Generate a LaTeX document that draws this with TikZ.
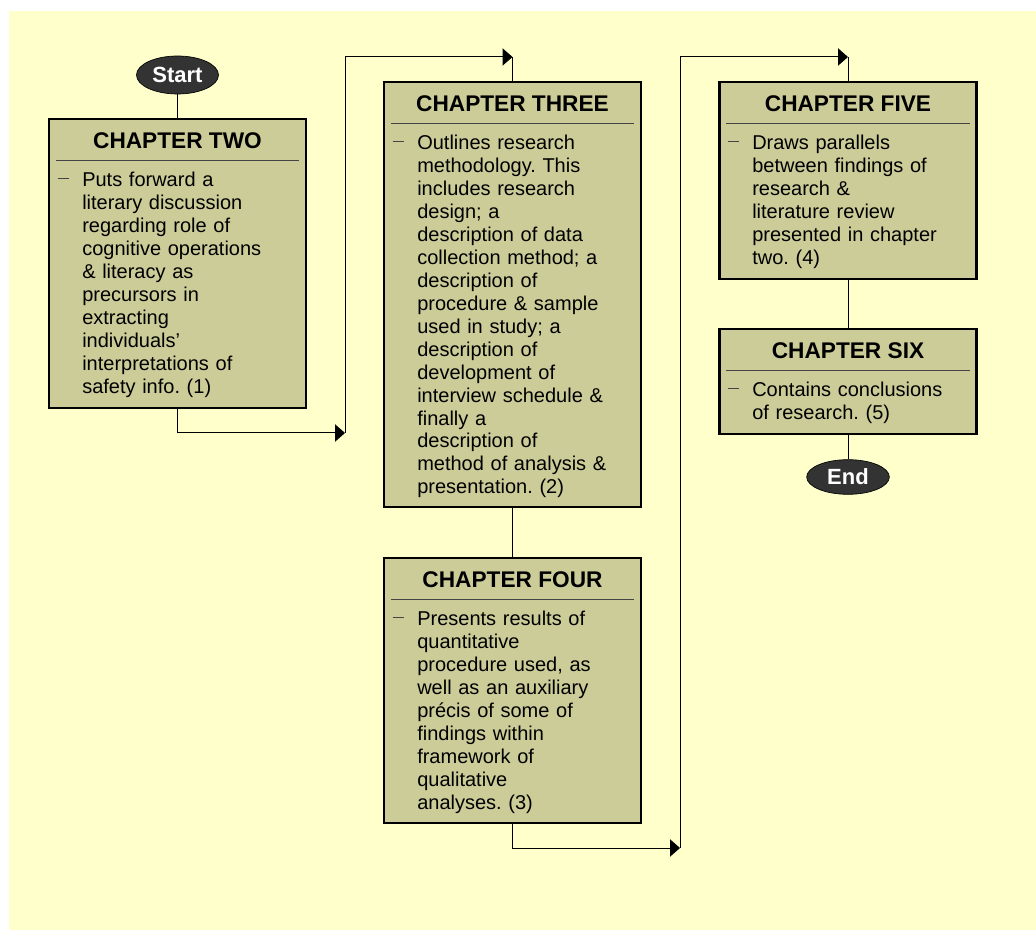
\documentclass[tikz,border=0pt]{standalone}
\usepackage{fontspec}
\setmainfont{Liberation Sans}
\frenchspacing
\usetikzlibrary{shapes.geometric,arrows.meta}
\definecolor{bgyellow}{HTML}{FFFFCC}
\definecolor{boxolive}{HTML}{CCCC99}
\definecolor{termgray}{HTML}{333333}
\definecolor{rulegray}{HTML}{444444}
\tikzset{
  chapbox/.style={draw=black, line width=2pt, fill=boxolive, minimum width=192.75pt, inner sep=0pt},
  chaptitle/.style={inner sep=0pt, font=\fontsize{17}{20}\selectfont\bfseries},
  chaptext/.style={anchor=north west, inner sep=0pt, text width=175pt, align=left, font=\fontsize{15}{17.2}\selectfont},
  chaprule/.style={draw=rulegray, line width=0.9pt},
  chapdash/.style={draw=rulegray, line width=0.9pt},
  terminal/.style={ellipse, draw=black, line width=0.5pt, fill=termgray, text=white, inner sep=0pt, font=\fontsize{16.5}{18}\selectfont\bfseries},
  flow/.style={line width=0.75pt},
  flowarrow/.style={-{Triangle[length=7.5pt,width=13pt]}}
}

\begin{document}
\begin{tikzpicture}[x=0.75pt,y=-0.75pt]
	\useasboundingbox (0,0) rectangle (1036,930);
	\fill[bgyellow] (9,11) rectangle (1036,930);

	% start and chapter two
	\node[terminal, minimum width=61.5pt, minimum height=28.5pt] (start) at (177.5,75) {Start};
	\node[chapbox, minimum height=216.75pt] (two) at (177.5,263.5) {};
	\node[chaptitle] (twohead) at (177.5,141) {CHAPTER TWO};
	\draw[chaprule] (56,160.5) -- (299,160.5);
	\draw[chapdash] (57.5,178.5) -- (68.5,178.5);
	\node[chaptext] (twobody) at (82,170.5) {\strut Puts forward a\\ literary discussion\\ regarding role of\\ cognitive operations\\ \& literacy as\\ precursors in\\ extracting\\ individuals’\\ interpretations of\\ safety info. (1)};

	% chapter three
	\node[chapbox, minimum height=318.75pt] (three) at (512.5,294.5) {};
	\node[chaptitle] (threehead) at (512.5,104) {CHAPTER THREE};
	\draw[chaprule] (391,123.5) -- (634,123.5);
	\draw[chapdash] (392.5,141.5) -- (403.5,141.5);
	\node[chaptext] (threebody) at (417,133.5) {\strut Outlines research\\ methodology. This\\ includes research\\ design; a\\ description of data\\ collection method; a\\ description of\\ procedure \& sample\\ used in study; a\\ description of\\ development of\\ interview schedule \&\\ finally a\\ description of\\ method of analysis \&\\ presentation. (2)};

	% chapter four
	\node[chapbox, minimum height=198.75pt] (four) at (512.5,690.5) {};
	\node[chaptitle] (fourhead) at (512.5,580) {CHAPTER FOUR};
	\draw[chaprule] (391,599.5) -- (634,599.5);
	\draw[chapdash] (392.5,617.5) -- (403.5,617.5);
	\node[chaptext] (fourbody) at (417,609.5) {\strut Presents results of\\ quantitative\\ procedure used, as\\ well as an auxiliary\\ précis of some of\\ findings within\\ framework of\\ qualitative\\ analyses. (3)};

	% chapter five
	\node[chapbox, minimum height=147.75pt] (five) at (848,180.5) {};
	\node[chaptitle] (fivehead) at (848,104) {CHAPTER FIVE};
	\draw[chaprule] (726,123.5) -- (970,123.5);
	\draw[chapdash] (727.5,141.5) -- (738.5,141.5);
	\node[chaptext] (fivebody) at (752,133.5) {\strut Draws parallels\\ between findings of\\ research \&\\ literature review\\ presented in chapter\\ two. (4)};

	% chapter six and end
	\node[chapbox, minimum height=78.75pt] (six) at (848,381.5) {};
	\node[chaptitle] (sixhead) at (848,351) {CHAPTER SIX};
	\draw[chaprule] (726,370.5) -- (970,370.5);
	\draw[chapdash] (727.5,388.5) -- (738.5,388.5);
	\node[chaptext] (sixbody) at (752,380.5) {\strut Contains conclusions\\ of research. (5)};
	\node[terminal, minimum width=62pt, minimum height=26pt] (end) at (848,477) {End};

	% connectors
	\coordinate (twoturn) at (345,433);
	\coordinate (threein) at (512.5,57);
	\coordinate (fourturn) at (680,848);
	\coordinate (fivein) at (848,57);
	\draw[flow] (start) -- (two);
	\draw[flow, flowarrow] (two.south) |- (twoturn);
	\draw[flow, flowarrow] (twoturn) |- (threein);
	\draw[flow] (threein) -- (three.north);
	\draw[flow] (three) -- (four);
	\draw[flow, flowarrow] (four.south) |- (fourturn);
	\draw[flow, flowarrow] (fourturn) |- (fivein);
	\draw[flow] (fivein) -- (five.north);
	\draw[flow] (five) -- (six);
	\draw[flow] (six) -- (end);
\end{tikzpicture}
\end{document}
